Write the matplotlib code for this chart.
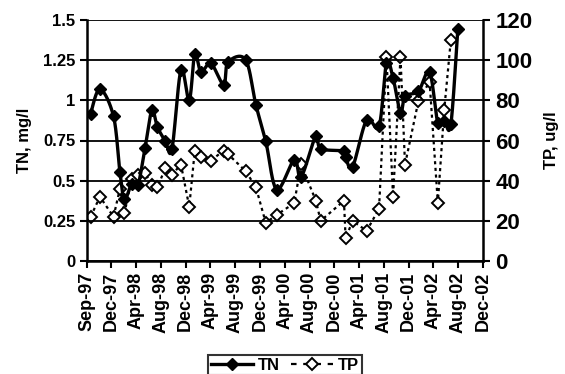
import numpy as np
import pandas as pd
import matplotlib
matplotlib.use("Agg")
import matplotlib.pyplot as plt
from matplotlib.lines import Line2D

plt.rcParams["font.family"] = ["Liberation Sans", "DejaVu Sans"]
plt.rcParams["font.weight"] = "bold"

# Sampling dates (shared by both series)
dates = [
    "1997-09-20", "1997-11-04", "1998-01-09", "1998-02-09", "1998-03-03",
    "1998-04-07", "1998-05-07", "1998-06-11", "1998-07-14", "1998-08-10",
    "1998-09-17", "1998-10-19", "1998-12-02", "1999-01-11", "1999-02-07",
    "1999-03-09", "1999-04-26", "1999-06-27", "1999-07-18", "1999-10-11",
    "1999-11-30", "2000-01-17", "2000-03-10", "2000-06-03", "2000-07-06",
    "2000-09-16", "2000-10-09", "2001-01-30", "2001-02-07", "2001-03-13",
    "2001-05-20", "2001-07-19", "2001-08-24", "2001-09-25", "2001-10-31",
    "2001-11-22", "2002-01-26", "2002-03-21", "2002-04-30", "2002-05-31",
    "2002-07-02", "2002-08-05",
]

# Total nitrogen, mg/l
tn = [
    0.917, 1.07, 0.90, 0.556, 0.384, 0.48, 0.47, 0.705, 0.937, 0.833,
    0.747, 0.695, 1.19, 1.002, 1.287, 1.178, 1.23, 1.098, 1.237, 1.253,
    0.972, 0.745, 0.445, 0.63, 0.522, 0.779, 0.699, 0.684, 0.645, 0.587,
    0.878, 0.838, 1.23, 1.14, 0.921, 1.025, 1.057, 1.176, 0.859, 0.872,
    0.85, 1.445,
]

# Total phosphorus, ug/l (no sample on the last date)
tp = [
    22, 32, 22, 36, 23.7, 41, 43, 43.8, 37.8, 36.7,
    46.3, 43, 48, 27, 55, 51.8, 50, 55, 53.2, 44.8,
    36.8, 19, 23, 28.8, 48.1, 30, 20, 30, 11.3, 20,
    15, 26, 101.7, 32, 101.7, 48, 79.7, 89.3, 29, 75.2,
    110, None,
]

axis_start = "1997-09-01"
tick_step_days = 120
n_ticks = 17

left_ticks = [0, 0.25, 0.5, 0.75, 1, 1.25, 1.5]
left_labels = ["0", "0.25", "0.5", "0.75", "1", "1.25", "1.5"]
right_ticks = [0, 20, 40, 60, 80, 100, 120]

start = pd.Timestamp(axis_start)
days = np.array([(pd.Timestamp(d) - start).days for d in dates], dtype=float)
tn_arr = np.array(tn, dtype=float)
tp_arr = np.array([np.nan if v is None else v for v in tp], dtype=float)

xmax = tick_step_days * (n_ticks - 1)

fig = plt.figure(figsize=(5.65, 3.74), dpi=100)
ax = fig.add_axes([86.7 / 565, 113 / 374, 396.1 / 565, 241 / 374])
ax2 = ax.twinx()

ax.set_xlim(0, xmax)
ax.set_ylim(0, 1.5)
ax2.set_ylim(0, 120)


def smooth_curve(x, y, ax_w, ax_h, xr, yr, n=20):
    """Bezier smoothing of a polyline in screen proportions."""
    px = x / xr * ax_w
    py = y / yr * ax_h
    P = np.column_stack([px, py])
    Pp = np.vstack([P[0], P, P[-1]])
    out = []
    for i in range(len(P) - 1):
        p0, p1, p2, p3 = Pp[i], Pp[i + 1], Pp[i + 2], Pp[i + 3]
        c1 = p1 + (p2 - p0) / 6.0
        c2 = p2 - (p3 - p1) / 6.0
        t = np.linspace(0, 1, n, endpoint=(i == len(P) - 2))[:, None]
        seg = ((1 - t) ** 3) * p1 + 3 * ((1 - t) ** 2) * t * c1 \
            + 3 * (1 - t) * t ** 2 * c2 + t ** 3 * p2
        out.append(seg)
    out = np.vstack(out)
    return out[:, 0] / ax_w * xr, out[:, 1] / ax_h * yr


# Horizontal gridlines
for v in left_ticks:
    ax.axhline(v, color="black", lw=1.3, zorder=1)

# TP on the right axis: dotted line with open diamonds
mask = ~np.isnan(tp_arr)
ax2.plot(days[mask], tp_arr[mask], color="black", lw=1.6,
         linestyle=(0, (1.4, 1.6)), zorder=2)
ax2.plot(days[mask], tp_arr[mask], linestyle="none", marker="D",
         markersize=6.5, markerfacecolor="white", markeredgecolor="black",
         markeredgewidth=1.4, zorder=3)

# TN on the left axis: smoothed thick line with filled diamonds
sx, sy = smooth_curve(days, tn_arr, 396.1, 241, xmax, 1.5)
ax.plot(sx, sy, color="black", lw=2.4, zorder=4, solid_capstyle="round")
ax.plot(days, tn_arr, linestyle="none", marker="D", markersize=6.5,
        color="black", zorder=5)
ax.set_zorder(ax2.get_zorder() + 1)
ax.patch.set_visible(False)

# Axes styling
for a in (ax, ax2):
    a.spines["top"].set_visible(False)
    a.spines["left"].set_linewidth(1.8)
    a.spines["right"].set_linewidth(1.8)
    a.spines["bottom"].set_linewidth(1.8)
ax.spines["right"].set_visible(False)
ax2.spines["left"].set_visible(False)
ax2.spines["bottom"].set_visible(False)

tick_pos = [i * tick_step_days for i in range(n_ticks)]
tick_lab = [(start + pd.Timedelta(days=p)).strftime("%b-%y") for p in tick_pos]
ax.set_xticks(tick_pos)
ax.set_xticklabels(tick_lab, rotation=90, fontsize=13, fontweight="bold")
ax.tick_params(axis="x", direction="out", length=5, width=1.5, pad=3)

ax.set_yticks(left_ticks)
ax.set_yticklabels(left_labels, fontsize=12, fontweight="bold")
ax.tick_params(axis="y", direction="out", length=5, width=1.5, pad=3)

ax2.set_yticks(right_ticks)
ax2.set_yticklabels([str(v) for v in right_ticks], fontsize=16, fontweight="bold")
ax2.tick_params(axis="y", direction="out", length=5, width=1.5, pad=4)

ax.set_ylabel("TN, mg/l", fontsize=12, fontweight="bold", labelpad=8)
ax2.set_ylabel("TP, ug/l", fontsize=12, fontweight="bold", labelpad=8)

handles = [
    Line2D([], [], color="black", lw=2.4, marker="D", markersize=6.5),
    Line2D([], [], color="black", lw=1.6, linestyle=(0, (2.5, 3)), marker="D",
           markersize=6.5, markerfacecolor="white", markeredgecolor="black",
           markeredgewidth=1.4),
]
leg = fig.legend(handles, ["TN", "TP"], loc="upper center",
                 bbox_to_anchor=(285 / 565, 19 / 374), ncol=2,
                 frameon=True, fancybox=False, fontsize=12,
                 handlelength=2.5, columnspacing=0.7, handletextpad=0.3,
                 borderpad=0.15, borderaxespad=0)
leg.get_frame().set_edgecolor("black")
leg.get_frame().set_linewidth(1.5)
for t in leg.get_texts():
    t.set_fontweight("bold")

fig.savefig("out.png", dpi=100)
